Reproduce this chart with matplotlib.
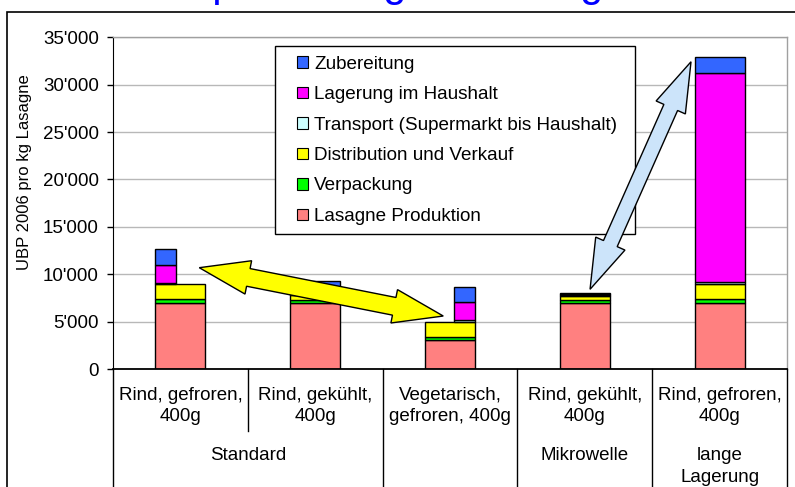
import matplotlib
matplotlib.use("Agg")
import matplotlib.pyplot as plt
from matplotlib.patches import Rectangle, Polygon
from matplotlib.legend_handler import HandlerPatch
import numpy as np

# ---------------- data ----------------
categories = ["Rind, gefroren,\n400g", "Rind, gekühlt,\n400g", "Vegetarisch,\ngefroren, 400g",
              "Rind, gekühlt,\n400g", "Rind, gefroren,\n400g"]
groups = ["Standard", "", "Mikrowelle", "lange\nLagerung"]
group_first = [0, 2, 3, 4]
group_last = [1, 2, 3, 4]

series_names = ["Lasagne Produktion", "Verpackung", "Distribution und Verkauf",
                "Transport (Supermarkt bis Haushalt)", "Lagerung im Haushalt", "Zubereitung"]
lasagne = [7000, 7000, 3050, 7000, 7000]
verpackung = [350, 330, 330, 330, 350]
distribution = [1620, 450, 1620, 400, 1620]
transport = [150, 130, 200, 130, 200]
lagerung = [1900, 600, 1900, 50, 22080]
zubereitung = [1650, 800, 1580, 150, 1630]
series_colors = ["#FF8080", "#00FF00", "#FFFF00", "#CCFFFF", "#FF00FF", "#3366FF"]

yticks = [0, 5000, 10000, 15000, 20000, 25000, 30000, 35000]
ytick_labels = ["0", "5'000", "10'000", "15'000", "20'000", "25'000", "30'000", "35'000"]

# ---------------- figure ----------------
plt.rcParams["font.family"] = ["Liberation Sans", "DejaVu Sans"]
W, H = 795, 487
fig = plt.figure(figsize=(W / 100, H / 100), dpi=100)
ax_l, ax_r, ax_t, ax_b = 113, 787, 37.3, 369
ax = fig.add_axes([ax_l / W, 1 - ax_b / H, (ax_r - ax_l) / W, (ax_b - ax_t) / H])

x = np.arange(len(categories))
full_w = 0.371
narrow_w = 0.156

bottom = np.zeros(len(categories))
lower = [lasagne, verpackung, distribution]
upper = [transport, lagerung, zubereitung]
for vals, col in zip(lower, series_colors[:3]):
    ax.bar(x, vals, width=full_w, bottom=bottom, color=col, edgecolor="black", linewidth=1, zorder=2)
    bottom += np.array(vals)

upper_w = np.full(len(categories), full_w)
upper_w[0] = narrow_w
upper_w[2] = narrow_w
upper_left = x - full_w / 2
upper_left[2] = x[2] + full_w / 2 - narrow_w
for vals, col in zip(upper, series_colors[3:]):
    ax.bar(upper_left, vals, width=upper_w, bottom=bottom, align="edge", color=col,
           edgecolor="black", linewidth=1, zorder=2)
    bottom += np.array(vals)

ax.set_xlim(-0.5, len(categories) - 0.5)
ax.set_ylim(0, 35000)
ax.set_yticks(yticks)
ax.set_yticklabels(ytick_labels)
ax.set_xticks([])
ax.yaxis.grid(True, color="#B8B8B8", linewidth=1)
ax.set_axisbelow(True)
ax.tick_params(axis="y", direction="out", length=4.3, width=1, pad=5.8, labelsize=13.5, colors="black")
for s in ["top", "right"]:
    ax.spines[s].set_color("#A0A0A0")
    ax.spines[s].set_linewidth(1)
ax.spines["left"].set_color("black")
ax.spines["bottom"].set_color("black")
ax.spines["bottom"].set_linewidth(1.3)

fig.text(25 / W, 1 - 172 / H, "UBP 2006 pro kg Lasagne", rotation=90, ha="center", va="center", fontsize=12)

# ---------------- category table below axis ----------------
tr = ax.get_xaxis_transform()
def ya(ypx):
    return (ax_b - ypx) / (ax_b - ax_t)

for i, lab in enumerate(categories):
    ax.text(x[i], ya(387), lab, transform=tr, ha="center", va="top", fontsize=13.5, linespacing=1.3)
for g, a, b in zip(groups, group_first, group_last):
    ax.text((x[a] + x[b]) / 2, ya(447), g, transform=tr, ha="center", va="top", fontsize=13.5, linespacing=1.35)

boundaries = np.arange(len(categories) + 1) - 0.5
group_bounds = set([group_first[0] - 0.5] + [b + 0.5 for b in group_last])
for bnd in boundaries:
    yend = ya(495) if bnd in group_bounds else ya(431)
    ax.plot([bnd, bnd], [0, yend], transform=tr, color="black", lw=1, clip_on=False, zorder=3)

# outer frame
fig.add_artist(Rectangle((7 / W, -0.5), 2, 1.5 - 12 / H, transform=fig.transFigure,
                         fill=False, edgecolor="black", linewidth=1.2))

# clipped title (only descenders visible)
fig.text(180 / W, 1 + 4 / H, "Optimierung durch Lagerdauer", color="#0000FF", fontsize=30,
         ha="left", va="baseline")

# ---------------- legend ----------------
def square_patch(legend, orig_handle, xdescent, ydescent, width, height, fontsize):
    s = 8.3
    return Rectangle((width - s - xdescent, (height - s) / 2 - ydescent), s, s)

handles = [Rectangle((0, 0), 1, 1, facecolor=c, edgecolor="black", linewidth=0.8) for c in series_colors][::-1]
labels = series_names[::-1]
leg = ax.legend(handles, labels, loc="upper left",
                bbox_to_anchor=(275 / W, 1 - 228 / H, 360 / W, 182 / H), bbox_transform=fig.transFigure,
                mode="expand", borderaxespad=0, fontsize=13.6, handlelength=1.26, handleheight=0.7,
                handletextpad=0.3, labelspacing=0.7, borderpad=0.5, frameon=True, fancybox=False,
                edgecolor="black", framealpha=1,
                handler_map={Rectangle: HandlerPatch(patch_func=square_patch)})
leg.get_frame().set_linewidth(1)
leg.set_zorder(5)

# ---------------- arrows ----------------
def double_arrow(p0, p1, shaft_hw, head_hw, head_len, fc):
    a = ax.transData.transform(p0)
    b = ax.transData.transform(p1)
    d = b - a
    L = np.hypot(*d)
    u = d / L
    n = np.array([-u[1], u[0]])
    pts = [a,
           a + head_len * u + head_hw * n,
           a + head_len * u + shaft_hw * n,
           b - head_len * u + shaft_hw * n,
           b - head_len * u + head_hw * n,
           b,
           b - head_len * u - head_hw * n,
           b - head_len * u - shaft_hw * n,
           a + head_len * u - shaft_hw * n,
           a + head_len * u - head_hw * n]
    pts = ax.transData.inverted().transform(np.array(pts))
    ax.add_patch(Polygon(pts, closed=True, facecolor=fc, edgecolor="black", linewidth=1,
                         clip_on=False, zorder=6))

yellow_arrow = [(0.140, 10690), (1.950, 5590)]
blue_arrow = [(3.039, 8410), (3.788, 32420)]
double_arrow(yellow_arrow[0], yellow_arrow[1], 9, 17, 50, "#FFFF00")
double_arrow(blue_arrow[0], blue_arrow[1], 7.5, 16, 50, "#CCE4FA")

fig.savefig("out.png", dpi=100)
